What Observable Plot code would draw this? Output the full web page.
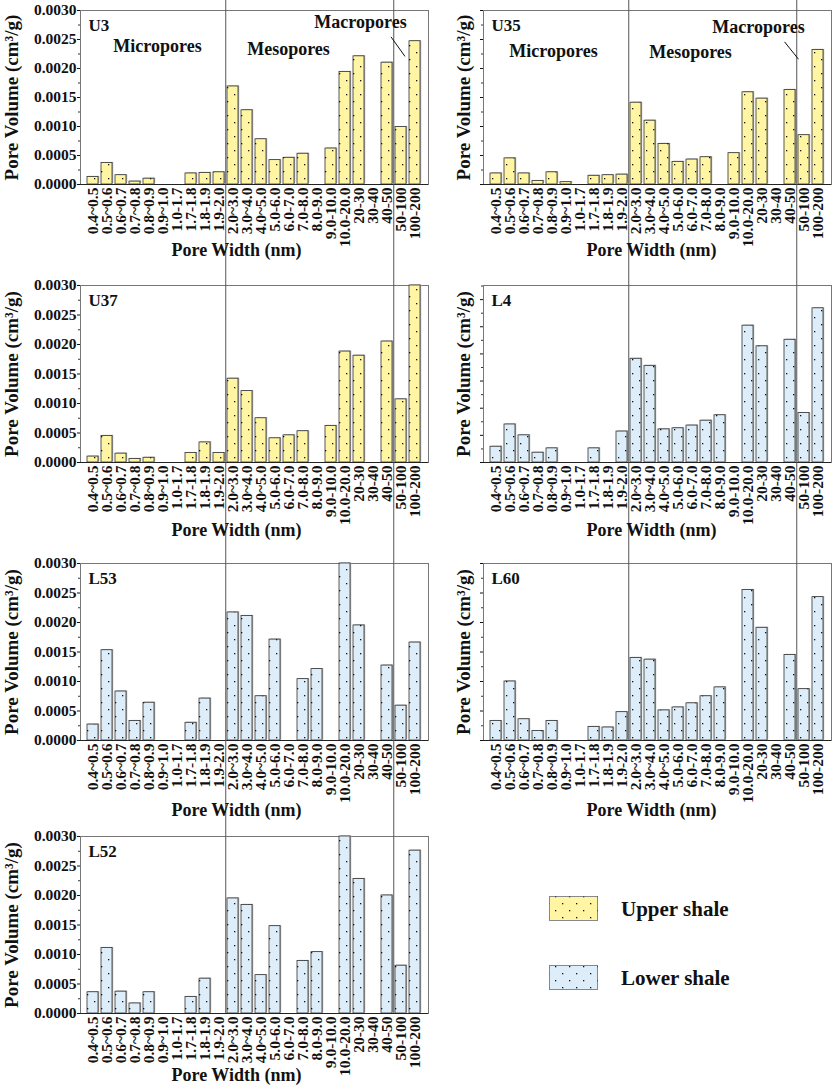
<!DOCTYPE html>
<html><head><meta charset="utf-8">
<script src="https://cdn.jsdelivr.net/npm/d3@7"></script>
<script src="https://cdn.jsdelivr.net/npm/@observablehq/plot@0.6"></script>
<style>
body{margin:0;background:#fff;}
#fig{position:relative;width:832px;height:1088px;overflow:hidden;background:#fff;}
#fig > svg{position:absolute;}
#fig g[aria-label^="x-axis"] text{font-size:15.5px;}
</style></head><body><div id="fig"></div>
<script>
const categories = ["0.4~0.5","0.5~0.6","0.6~0.7","0.7~0.8","0.8~0.9","0.9~1.0","1.0-1.7","1.7-1.8","1.8-1.9","1.9-2.0","2.0~3.0","3.0~4.0","4.0~5.0","5.0-6.0","6.0-7.0","7.0-8.0","8.0-9.0","9.0-10.0","10.0-20.0","20-30","30-40","40-50","50-100","100-200"];

const U3  = [0.00013,0.00037,0.00016,0.00005,0.00010,0,0,0.00019,0.00020,0.00021,0.00169,0.00128,0.00078,0.00042,0.00046,0.00053,0,0.00062,0.00194,0.00221,0,0.00210,0.00099,0.00247];
const U35 = [0.00019,0.00045,0.00019,0.00006,0.00021,0.00004,0,0.00015,0.00016,0.00017,0.00141,0.00110,0.00070,0.00039,0.00043,0.00047,0,0.00054,0.00159,0.00148,0,0.00163,0.00085,0.00232];
const U37 = [0.00010,0.00045,0.00015,0.00006,0.00008,0,0,0.00016,0.00034,0.00016,0.00142,0.00121,0.00075,0.00041,0.00046,0.00053,0,0.00062,0.00188,0.00181,0,0.00205,0.00107,0.00300];
const L4  = [0.00029,0.00070,0.00050,0.00018,0.00026,0,0,0.00026,0,0.00057,0.00191,0.00178,0.00061,0.00063,0.00068,0.00077,0.00087,0,0.00252,0.00214,0,0.00226,0.00091,0.00284];
const L53 = [0.00027,0.00153,0.00083,0.00033,0.00064,0,0,0.00030,0.00071,0,0.00217,0.00211,0.00075,0.00171,0,0.00104,0.00121,0,0.00300,0.00195,0,0.00127,0.00059,0.00166];
const L60 = [0.00033,0.00100,0.00036,0.00016,0.00033,0,0,0.00023,0.00022,0.00048,0.00140,0.00137,0.00051,0.00056,0.00063,0.00075,0.00090,0,0.00255,0.00191,0,0.00145,0.00087,0.00243];
const L52 = [0.00036,0.00111,0.00037,0.00017,0.00036,0,0,0.00028,0.00059,0,0.00195,0.00184,0.00065,0.00148,0,0.00089,0.00104,0,0.00300,0.00228,0,0.00200,0.00081,0.00276];

const minorTicks = [0.00025,0.00075,0.00125,0.00175,0.00225,0.00275,0.00325];
const poreClasses = ["Micropores","Mesopores","Macropores"];
const legendLabels = ["Upper shale","Lower shale"];

const UPPER = "#FFF5A3", LOWER = "#DDEEFA";
const FONT = "'Liberation Serif','Times New Roman',serif";

const cols = [
  {x:0,   w:440, ml:80, mr:12, titleDx:-69, xTitleDx:-18},
  {x:440, w:392, ml:43, mr:1,  titleDx:-20, xTitleDx:-6}
];
const rows = [
  {top:0,   h:265, mt:10, mb:81, xdy:66},
  {top:265, h:280, mt:20, mb:83, xdy:68},
  {top:545, h:278, mt:18, mb:83, xdy:70},
  {top:823, h:265, mt:13, mb:75, xdy:62}
];

const panels = [
  {name:"U3",  values:U3,  color:UPPER, col:0, row:0, labels:true,  yMax:0.003, last:false,
   notes:[[77,36],[208,39],[280,12]], leader:{dx:4, y1:0.002545, y2:0.002208}},
  {name:"U35", values:U35, color:UPPER, col:1, row:0, labels:false, yMax:0.003, last:false,
   notes:[[70,41],[207,42],[275,17]], leader:{dx:-5.5, y1:0.00246, y2:0.00216}},
  {name:"U37", values:U37, color:UPPER, col:0, row:1, labels:true,  yMax:0.003, last:false},
  {name:"L4",  values:L4,  color:LOWER, col:1, row:1, labels:false, yMax:0.00326, last:false},
  {name:"L53", values:L53, color:LOWER, col:0, row:2, labels:true,  yMax:0.003, last:false},
  {name:"L60", values:L60, color:LOWER, col:1, row:2, labels:false, yMax:0.003, last:true},
  {name:"L52", values:L52, color:LOWER, col:0, row:3, labels:true,  yMax:0.003, last:true}
];

const fig = document.getElementById("fig");

function addPattern(svgSel, id) {
  const defs = svgSel.insert("defs", ":first-child");
  const pat = defs.append("pattern").attr("id", id)
    .attr("patternUnits", "userSpaceOnUse").attr("width", 14).attr("height", 14);
  pat.append("rect").attr("x", 3).attr("y", 3).attr("width", 1.3).attr("height", 1.3).attr("fill", "#111");
  pat.append("rect").attr("x", 10).attr("y", 10).attr("width", 1.3).attr("height", 1.3).attr("fill", "#111");
}

for (const p of panels) {
  const C = cols[p.col], R = rows[p.row];
  const frameW = C.w - C.ml - C.mr;
  const step = frameW / categories.length;
  const data = categories.map((c, i) => ({cat: c, v: p.values[i]})).filter(d => d.v > 0);
  const pid = "dots-" + p.name;
  const marks = [
    Plot.frame({stroke: "#777"}),
    Plot.ruleY(minorTicks.filter(t => t < p.yMax), {stroke: "#333", insetLeft: -2, insetRight: frameW}),
    Plot.barY(data, {x: "cat", y: "v", fill: "#a8a8a8", dx: 1.2, dy: -0.6}),
    Plot.barY(data, {x: "cat", y: "v", fill: p.color, stroke: "#333", strokeWidth: 0.8}),
    Plot.barY(data, {x: "cat", y: "v", fill: `url(#${pid})`}),
    Plot.ruleY([0], {stroke: "#222"}),
    Plot.ruleX([categories[10], categories[22]], {dx: -step / 2, stroke: "#555", strokeWidth: 1,
      insetTop: -R.mt, insetBottom: p.last ? 0 : -R.mb}),
    Plot.text([p.name], {frameAnchor: "top-left", textAnchor: "start", lineAnchor: "top",
      dx: 8, dy: 8, fontSize: 17, fontWeight: "bold", fill: "#111"}),
    Plot.text(["Pore Volume (cm³/g)"], {frameAnchor: "left", textAnchor: "middle", lineAnchor: "middle",
      rotate: -90, dx: C.titleDx, fontSize: 19, fontWeight: "bold", fill: "#111"}),
    Plot.text(["Pore Width (nm)"], {frameAnchor: "bottom", textAnchor: "middle", lineAnchor: "middle",
      dx: C.xTitleDx, dy: R.xdy, fontSize: 18, fontWeight: "bold", fill: "#111"})
  ];
  if (p.notes) {
    p.notes.forEach(([nx, ny], k) => {
      marks.push(Plot.text([poreClasses[k]], {frameAnchor: "top-left", textAnchor: "middle",
        lineAnchor: "middle", dx: nx, dy: ny, fontSize: 18, fontWeight: "bold", fill: "#111"}));
    });
    const L = p.leader;
    marks.push(Plot.link([{a: categories[21], b: categories[22], y1: L.y1, y2: L.y2}],
      {x1: "a", x2: "b", y1: "y1", y2: "y2", dx: L.dx, stroke: "#111", strokeWidth: 1}));
  }
  const svg = Plot.plot({
    width: C.w, height: R.h,
    marginLeft: C.ml, marginRight: C.mr, marginTop: R.mt, marginBottom: R.mb,
    style: {fontFamily: FONT, fontWeight: "bold", fontSize: "15.5px", color: "#111", background: "white"},
    x: {domain: categories, paddingInner: 0.2, paddingOuter: 0.1, tickRotate: -90,
        tickSize: 0, tickPadding: 3, label: null},
    y: {domain: [0, p.yMax], ticks: 6, tickSize: 3, tickPadding: 1, label: null,
        tickFormat: p.labels ? d3.format(".4f") : () => ""},
    marks
  });
  addPattern(d3.select(svg), pid);
  svg.style.left = C.x + "px";
  svg.style.top = R.top + "px";
  fig.appendChild(svg);
}

// legend
const leg = d3.create("svg").attr("width", 392).attr("height", 265)
  .style("left", "440px").style("top", "823px");
addPattern(leg, "dots-legend");
const legColors = [UPPER, LOWER];
legendLabels.forEach((lab, k) => {
  const y0 = 73 + k * 69;
  leg.append("rect").attr("x", 109.5).attr("y", y0 + 0.5).attr("width", 48).attr("height", 24)
    .attr("fill", legColors[k]).attr("stroke", "#888");
  leg.append("rect").attr("x", 109.5).attr("y", y0 + 0.5).attr("width", 48).attr("height", 24)
    .attr("fill", "url(#dots-legend)");
  leg.append("text").attr("x", 181).attr("y", y0 + 13).attr("dy", "0.35em")
    .attr("font-family", FONT).attr("font-weight", "bold").attr("font-size", 21)
    .attr("fill", "#111").text(lab);
});
fig.appendChild(leg.node());
</script></body></html>
